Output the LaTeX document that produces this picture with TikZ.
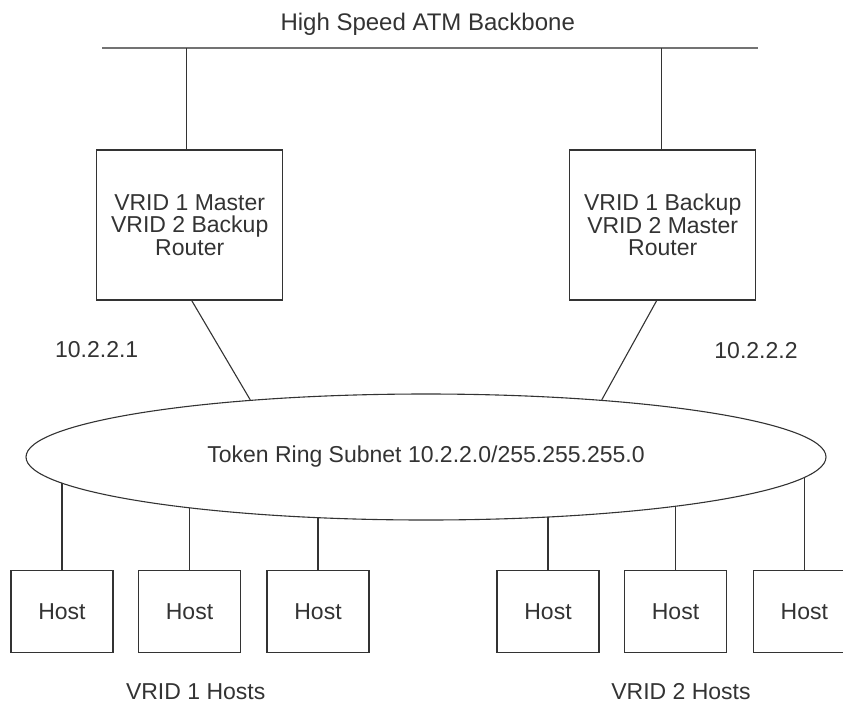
\documentclass[tikz,border=0pt]{standalone}
\usepackage{fontspec}
\setmainfont{Liberation Sans}
\usetikzlibrary{shapes.geometric}
\usetikzlibrary{calc}
\usetikzlibrary{math}
\definecolor{inkgray}{rgb}{0.2,0.2,0.2}
\definecolor{railgray}{rgb}{0.45,0.45,0.45}
\tikzset{
  wire/.style={inkgray, line width=1.1pt},
  rail/.style={railgray, line width=1.8pt},
  routerbox/.style={draw=inkgray, line width=1.1pt, minimum width=186pt,
    minimum height=150pt, inner sep=0pt, align=center, text=inkgray,
    font=\fontsize{23}{22.5}\selectfont},
  hostbox/.style={draw=inkgray, line width=1.1pt, minimum width=102pt,
    minimum height=82pt, inner sep=0pt, text=inkgray,
    font=\fontsize{23}{24}\selectfont},
  ringnode/.style={ellipse, draw=inkgray, line width=1.1pt, minimum width=800pt,
    minimum height=126pt, inner sep=0pt, text=inkgray,
    font=\fontsize{23}{24}\selectfont},
  lbl/.style={inner sep=0pt, text height=16pt, text depth=0pt, text=inkgray,
    font=\fontsize{23}{24}\selectfont}
}
\begin{document}
\begin{tikzpicture}[x=1pt,y=-1pt]
\useasboundingbox (0,0) rectangle (843,702);

%%%%%%%%%%%%%%%%%%%%%%%%%%%%%%%%%%%%%%%%%%%%%%%%%%%%%%%%%%%%%% Backbone
\node[lbl, font=\fontsize{24}{24}\selectfont] (title) at (427.7,22) {High Speed ATM Backbone};
\coordinate (bbL) at (102,48);
\coordinate (bbR) at (758,48);
\draw[rail] (bbL) -- (bbR);

%%%%%%%%%%%%%%%%%%%%%%%%%%%%%%%%%%%%%%%%%%%%%%%%%%%%%%%%%%%%%% Routers
\node[routerbox] (rtrA) at (189.7,225) {VRID 1 Master\\VRID 2 Backup\\Router};
\node[routerbox] (rtrB) at (662.7,225) {VRID 1 Backup\\VRID 2 Master\\Router};

\draw[wire] ([xshift=-3pt]rtrA.north) -- ([xshift=-3pt]rtrA.north |- bbL);
\draw[wire] ([xshift=-1pt]rtrB.north) -- ([xshift=-1pt]rtrB.north |- bbR);

\node[lbl] (ipA) at (96.7,349.5) {10.2.2.1};
\node[lbl] (ipB) at (756,350) {10.2.2.2};

%%%%%%%%%%%%%%%%%%%%%%%%%%%%%%%%%%%%%%%%%%%%%%%%%%%%%%%%%%%%%% Ring
\node[ringnode] (ring) at (426,457) {Token Ring Subnet 10.2.2.0/255.255.255.0};

\draw[wire] ([xshift=2pt]rtrA.south) -- (ring.162);
\draw[wire] ([xshift=-6pt]rtrB.south) -- (ring.18.4);

%%%%%%%%%%%%%%%%%%%%%%%%%%%%%%%%%%%%%%%%%%%%%%%%%%%%%%%%%%%%%% Hosts
\foreach \n/\x in {1/62,2/189.5,3/318,4/548,5/675.5,6/804.3} {
  \node[hostbox] (host\n) at (\x,611.7) {Host};
  \tikzmath{\dy = 63*sqrt(1-((\x-426)/400)^2);}
  \coordinate (tap\n) at (\x,457+\dy);
  \draw[wire] (host\n.north) -- (tap\n);
}

\node[lbl] (grpA) at (195.7,691.5) {VRID 1 Hosts};
\node[lbl] (grpB) at (681,691.5) {VRID 2 Hosts};

\end{tikzpicture}
\end{document}
